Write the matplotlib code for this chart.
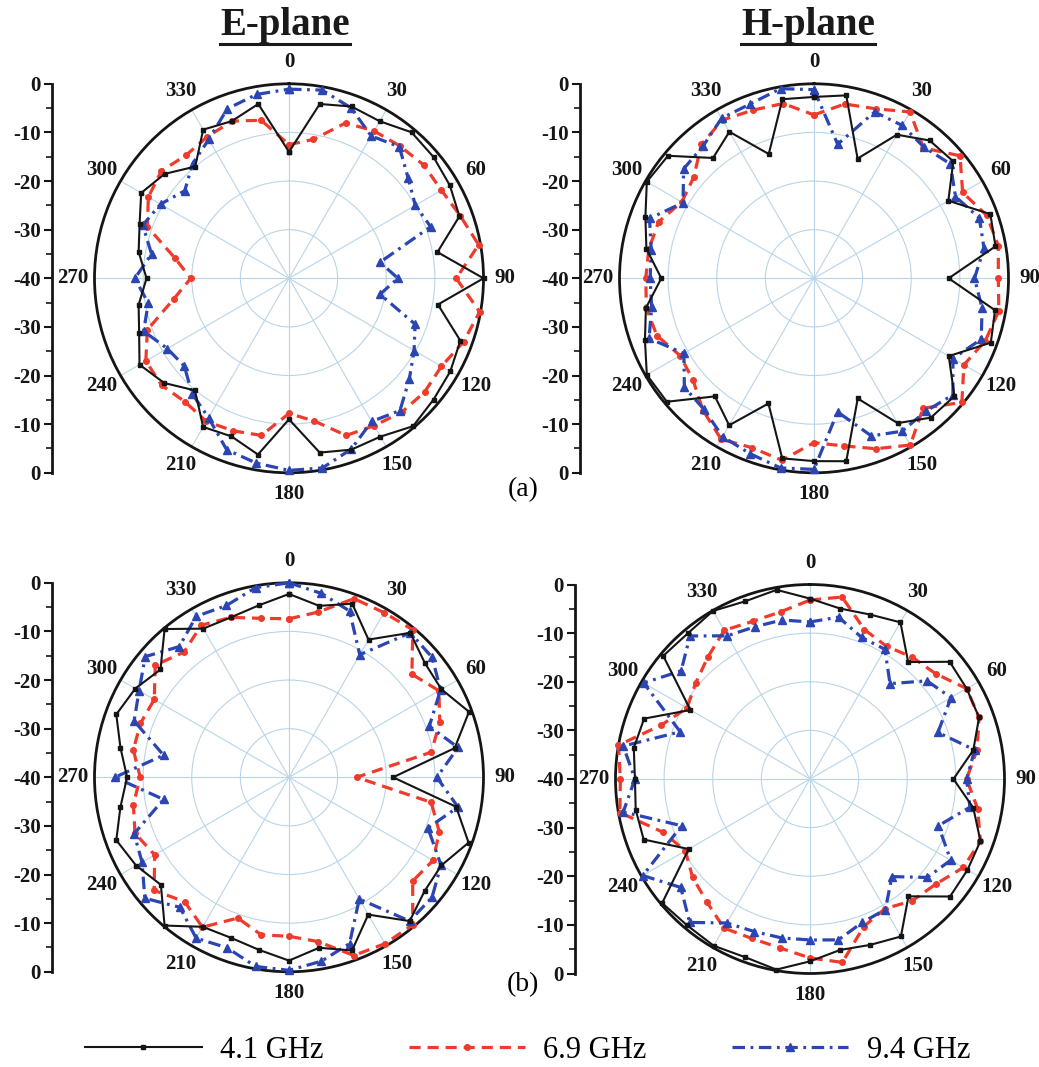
import numpy as np
import matplotlib
matplotlib.use('Agg')
import matplotlib.pyplot as plt
from matplotlib.lines import Line2D

plt.rcParams['font.family'] = 'Liberation Serif'
plt.rcParams['font.weight'] = 'bold'
plt.rcParams['lines.scale_dashes'] = False

W, H = 1039, 1067

angles = np.arange(0, 360, 10)
theta_labels = ['0', '30', '60', '90', '120', '150', '180', '210', '240', '270', '300', '330']
series_labels = ['4.1 GHz', '6.9 GHz', '9.4 GHz']

# (a) E-plane
ea_41 = [-14, -3.6, -2.4, -2.7, -0.8, -1.2, -1.8, -2.7, -9, 0, -8.9, -2.5, -1.7, -1.2, -0.3, -2.4, -2.5, -3.6,
         -11, -3.2, -5.4, -4.7, -9.9, -6.5, -4.5, -7.2, -8.6, -10.7, -8.6, -7.3, -4.9, -6.6, -10, -4.7, -5.6, -3.6]
ea_69 = [-12.5, -11, -6, -5, -4.5, -3.8, -3.8, -2.5, -0.4, -5.6, -0.2, -1.8, -3.8, -3.6, -4, -5, -5.6, -10.2,
         -12.2, -7.2, -6.6, -6, -6.8, -5.8, -6, -9, -16, -19.8, -16.2, -9, -6.6, -5.7, -7, -6.4, -5.6, -7]
ea_94 = [-1.1, -0.7, -2.7, -6.2, -4.7, -8, -10, -9, -21, -17.6, -21, -12.4, -10.3, -7.7, -4.5, -6, -2.6, -0.4,
         -0.5, -1.4, -2.5, -6.9, -9, -11.9, -11.1, -8.2, -10.6, -8.3, -11.3, -8, -9.5, -12, -9.2, -7, -2.9, -1.6]

# (a) H-plane
ha_41 = [-2.7, -1.8, -13.8, -5.9, -3, -2.6, -8.1, -1.4, -2.1, -12.3, -2.2, -1.3, -8, -2.3, -2.6, -5.6, -13.7, -1.8,
         -2.4, -2.4, -12.6, -5.1, -8.3, -0.5, -0.3, -3, -4.9, -8.6, -5, -3.1, -0.3, -0.8, -7.7, -5.2, -12.8, -2.6]
ha_69 = [-6.4, -3.6, -2.9, -0.5, -5, -0.8, -4.7, -2.2, -1.5, -2.1, -1.4, -2.5, -4.4, -0.3, -5.1, -0.4, -2.7, -5,
         -6.2, -2, -2.9, -1.8, -4.5, -7.5, -8.2, -5.6, -5, -5.4, -5.5, -6, -8.6, -7.7, -4, -2.4, -3.2, -3.5]
ha_94 = [-1.2, -12, -3.6, -3.7, -4.8, -3.4, -6.4, -3.8, -4.5, -7, -4.9, -3.4, -7, -2.7, -4.3, -3.7, -5.5, -12.1,
         -0.7, -0.4, -1.6, -2.4, -4.8, -5.2, -9.1, -3.9, -6.1, -6.3, -6, -4, -8.9, -5, -4.5, -2, -1.8, -0.4]

# (b) E-plane
eb_41 = [-2.3, -4.2, -2, -7.3, -1.2, -3.5, -3.8, -0.6, -5.4, -18.6, -5.1, -0.7, -3.8, -3.6, -1.4, -7.4, -2.1, -4.4,
         -2.3, -4, -4.9, -4.5, -0.2, -5.6, -3.7, -2.2, -4.8, -6.7, -4.8, -2.2, -3.5, -5.5, -0.2, -4.7, -5, -4.1]
eb_69 = [-7.4, -5.5, -0.9, -0.9, -0.4, -7, -4.4, -7, -10.3, -26.1, -10.3, -7.1, -5.8, -6.8, -0.4, -0.5, -1, -5.7,
         -7.3, -7.1, -9.2, -4.4, -6.6, -3.8, -8.1, -6.3, -7.5, -9.4, -7.5, -7.5, -8, -4.1, -6.4, -3.9, -5, -6.8]
eb_94 = [0, -1.6, -3.6, -10.9, -1.2, -1.6, -4, -9.3, -4.7, -9.6, -4.7, -9.6, -3.9, -1.6, -1.4, -11.1, -3.6, -1.6,
         -0.3, -0.5, -2.7, -1.8, -5.1, -1.3, -5.1, -6.1, -13.8, -4.2, -13.8, -6.1, -4.4, -1.4, -4.9, -1.8, -2.4, -0.4]

# (b) H-plane
hb_41 = [-2.9, -4.4, -4, -2.8, -8.6, -2.5, -2.8, -3, -5.9, -10.5, -5.9, -2.7, -2.6, -2.4, -8.5, -2.6, -3.7, -4.3,
         -2.5, -0.2, -1, -0.4, -0.7, -0.3, -11.2, -3.6, -3.6, -4, -3.2, -3.7, -11.6, -0.6, -0.9, -0.1, -1.1, -0.5]
hb_69 = [-3.2, -2, -7.3, -8.5, -7.3, -6.3, -2.8, -3, -5.1, -7.8, -5, -2.7, -3.6, -6.3, -7.3, -9.2, -7.7, -1.7,
         -3.2, -4.7, -5.1, -4.6, -7, -8.5, -10.4, -7.9, -0.3, -1, 0, -7.5, -10.8, -9.3, -7.3, -4.7, -5.5, -5.1]
hb_94 = [-7.7, -6.2, -9, -9.2, -14.4, -8.6, -6.5, -12, -5.6, -7.8, -6.6, -11.9, -6.6, -8.5, -13.8, -9, -8.6, -6.4,
         -6.9, -6.8, -6.6, -5.8, -1.5, -5.3, -0.3, -11.9, -1, -4, -1, -11.6, -0.5, -5.4, -1.6, -6, -6.7, -6.8]

black = '#151515'
red = '#ef3b2c'
blue = '#2b45b2'
gridc = '#b9d5e8'

styles = [
    dict(color=black, lw=1.5, marker='s', ms=3.5, zorder=5),
    dict(color=red, lw=2.3, marker='o', ms=4, dashes=(8, 5), zorder=3),
    dict(color=blue, lw=2.3, marker='^', ms=6, dashes=(9, 4, 2, 4), zorder=4),
]

fig = plt.figure(figsize=(W / 100, H / 100), dpi=100)
R = 194.5

panels = [
    ((289, 278.3), 52, [ea_41, ea_69, ea_94]),
    ((814, 278.3), 580, [ha_41, ha_69, ha_94]),
    ((289, 777.3), 52, [eb_41, eb_69, eb_94]),
    ((810, 779.0), 575, [hb_41, hb_69, hb_94]),
]

th = np.radians(np.append(angles, 360))
for (cx, cy), lx, data in panels:
    ax = fig.add_axes([(cx - R) / W, 1 - (cy + R) / H, 2 * R / W, 2 * R / H], projection='polar')
    ax.set_theta_zero_location('N')
    ax.set_theta_direction(-1)
    ax.set_ylim(-40, 0)
    ax.set_yticks([-30, -20, -10])
    ax.set_yticklabels([])
    ax.tick_params(axis='y', length=0)
    ax.set_xticks(np.radians(np.arange(0, 360, 30)))
    ax.set_xticklabels(theta_labels)
    ax.set_xticks(np.radians(np.arange(15, 360, 30)), minor=True)
    ax.tick_params(axis='x', which='major', direction='inout', length=11, width=1.5,
                   labelsize=15, pad=3, colors=black)
    ax.tick_params(axis='x', which='minor', direction='in', length=6, width=1.3, colors=black)
    ax.grid(True, color=gridc, lw=0.8)
    ax.spines['polar'].set_linewidth(2)
    ax.spines['polar'].set_color(black)
    for vals, st in zip(data, styles):
        r = np.append(vals, vals[0])
        ax.plot(th, r, clip_on=False, **st)

    lax = fig.add_axes([lx / W, 1 - (cy + R) / H, 0.0001, 2 * R / H])
    lax.patch.set_visible(False)
    for s in ['top', 'right', 'bottom']:
        lax.spines[s].set_visible(False)
    lax.spines['left'].set_linewidth(2)
    lax.spines['left'].set_color(black)
    lax.set_ylim(-40, 40)
    lax.set_xticks([])
    ticks = np.arange(-40, 41, 10)
    lax.set_yticks(ticks)
    lax.set_yticklabels([str(int(abs(v) - 40)) for v in ticks])
    lax.set_yticks(np.arange(-35, 40, 10), minor=True)
    lax.tick_params(axis='y', which='major', length=6, width=1.5, labelsize=15, pad=2, colors=black)
    lax.tick_params(axis='y', which='minor', length=4, width=1.2, colors=black)

fig.text(523 / W, 1 - 490 / H, '(a)', ha='center', va='center', fontsize=20, fontweight='normal')
fig.text(523 / W, 1 - 985 / H, '(b)', ha='center', va='center', fontsize=20, fontweight='normal')

titles = []
for x, s in [(285, 'E-plane'), (808, 'H-plane')]:
    titles.append(fig.text(x / W, 1 - 26 / H, s, ha='center', va='center', fontsize=28,
                           fontweight='bold', color='#1a1a1a'))

fig.canvas.draw()
rend = fig.canvas.get_renderer()
for t in titles:
    bb = t.get_window_extent(rend)
    y = (bb.y0 + 1) / H
    fig.add_artist(Line2D([bb.x0 / W, bb.x1 / W], [y, y], color='#1a1a1a', lw=2.2))

handles = [Line2D([], [], **{k: v for k, v in st.items() if k != 'zorder'}) for st in styles]
fig.legend(handles, series_labels, loc='center', bbox_to_anchor=(0.508, 1 - 1050 / H), ncol=3,
           frameon=False, handlelength=3.8, handletextpad=0.6, columnspacing=2.8, numpoints=1,
           prop={'size': 22, 'weight': 'normal'})

fig.savefig('out.png', dpi=100)
